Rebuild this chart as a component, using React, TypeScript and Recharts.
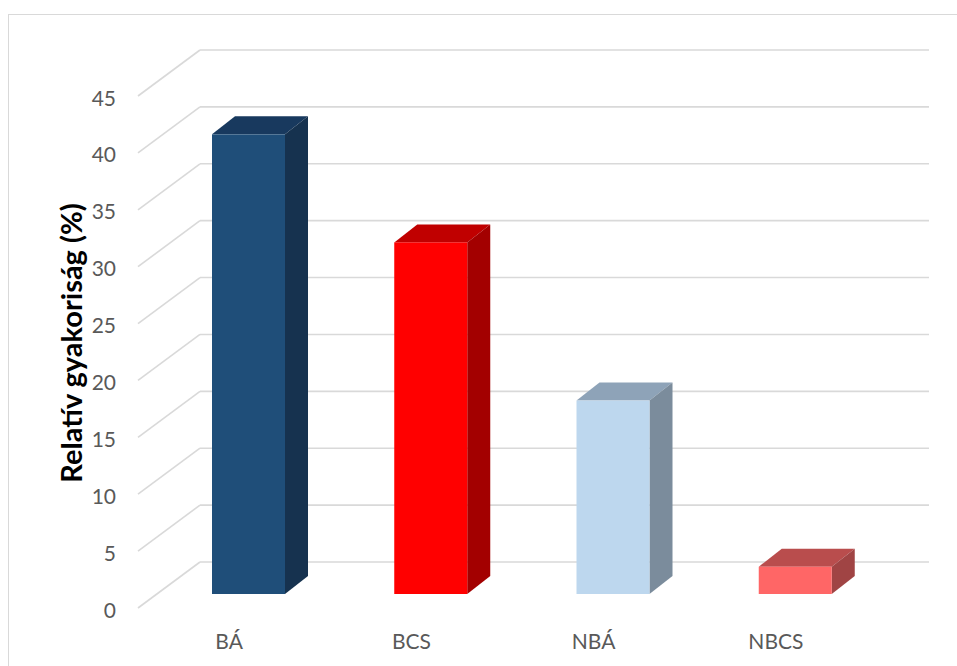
import React from 'react';
import { BarChart, Bar, XAxis, YAxis, CartesianGrid } from 'recharts';

const categories = ['BÁ', 'BCS', 'NBÁ', 'NBCS'];
const values = [40.4, 30.9, 17.0, 2.4];
const yTicks = [0, 5, 10, 15, 20, 25, 30, 35, 40, 45];
const yTitle = 'Relatív gyakoriság (%)';

const frontColors = ['#1F4E79', '#FF0000', '#BDD7EE', '#FF6666'];
const topColors = ['#18395E', '#C00000', '#8EA3B8', '#B94D4D'];
const sideColors = ['#16324F', '#A30000', '#7B8C9C', '#A04444'];

const data = categories.map((name, i) => ({ name, value: values[i] }));

const FONT = 'Lato, "Open Sans", sans-serif';
const TEXT_COLOR = '#595959';
const GRID_COLOR = '#D9D9D9';

// 3D projection offsets
const BAR_DX = 23;
const BAR_DY = 18;
const FRONT_DX = -19;
const FRONT_DY = 14;
const BACK_DX = 43;
const BACK_DY = -32;

const Bar3D = (props: any) => {
  const { x, y, width, height, index } = props;
  if (width == null || height == null) return null;
  const top = `${x},${y} ${x + BAR_DX},${y - BAR_DY} ${x + width + BAR_DX},${y - BAR_DY} ${x + width},${y}`;
  const side = `${x + width},${y} ${x + width + BAR_DX},${y - BAR_DY} ${x + width + BAR_DX},${y + height - BAR_DY} ${x + width},${y + height}`;
  return (
    <g>
      <polygon points={top} fill={topColors[index]} />
      <polygon points={side} fill={sideColors[index]} />
      <rect x={x} y={y} width={width} height={height} fill={frontColors[index]} />
    </g>
  );
};

const gridLine = (props: any) => {
  const { x1, y1, x2, key } = props;
  return (
    <g key={key}>
      <line
        x1={x1 + FRONT_DX}
        y1={y1 + FRONT_DY}
        x2={x1 + BACK_DX}
        y2={y1 + BACK_DY}
        stroke={GRID_COLOR}
        strokeWidth={1.6}
      />
      <line
        x1={x1 + BACK_DX}
        y1={y1 + BACK_DY}
        x2={x2 + BACK_DX}
        y2={y1 + BACK_DY}
        stroke={GRID_COLOR}
        strokeWidth={1.6}
      />
    </g>
  );
};

const renderYTick = (props: any) => {
  const { x, y, payload } = props;
  return (
    <text
      x={x + FRONT_DX - 22}
      y={y + FRONT_DY + 1}
      textAnchor="end"
      dominantBaseline="central"
      fontFamily={FONT}
      fontSize={21}
      fill={TEXT_COLOR}
    >
      {payload.value}
    </text>
  );
};

const renderXTick = (props: any) => {
  const { x, y, payload } = props;
  return (
    <text
      x={x + FRONT_DX}
      y={y + 46}
      textAnchor="middle"
      dominantBaseline="central"
      fontFamily={FONT}
      fontSize={21}
      fill={TEXT_COLOR}
    >
      {payload.value}
    </text>
  );
};

const renderTitle = (props: any) => {
  const vb = props.viewBox || {};
  const cx = vb.x + vb.width - 87;
  const cy = vb.y + vb.height / 2 + 5;
  return (
    <text
      x={cx}
      y={cy}
      transform={`rotate(-90, ${cx}, ${cy})`}
      textAnchor="middle"
      dominantBaseline="central"
      fontFamily={FONT}
      fontWeight="bold"
      fontSize={29}
      fill="#000000"
    >
      {yTitle}
    </text>
  );
};

export default function App() {
  return (
    <div style={{ position: 'absolute', left: 0, top: 0, width: 957, height: 666, overflow: 'hidden', background: '#fff' }}>
      <div
        style={{
          position: 'absolute',
          left: 8,
          top: 14,
          width: 1000,
          height: 1000,
          borderLeft: `1.5px solid ${GRID_COLOR}`,
          borderTop: `1.5px solid ${GRID_COLOR}`,
        }}
      />
      <div style={{ position: 'absolute', left: 0, top: 0 }}>
        <BarChart
          width={957}
          height={666}
          data={data}
          margin={{ top: 82, right: 71, bottom: 32, left: 97 }}
        >
          <CartesianGrid vertical={false} horizontal={gridLine} />
          <XAxis
            dataKey="name"
            height={40}
            axisLine={false}
            tickLine={false}
            tickSize={0}
            tickMargin={0}
            tick={renderXTick}
            interval={0}
          />
          <YAxis
            width={60}
            domain={[0, 45]}
            ticks={yTicks}
            axisLine={false}
            tickLine={false}
            tickSize={0}
            tickMargin={0}
            tick={renderYTick}
            interval={0}
            label={{ content: renderTitle }}
          />
          <Bar dataKey="value" barSize={73} isAnimationActive={false} shape={<Bar3D />} />
        </BarChart>
      </div>
    </div>
  );
}
